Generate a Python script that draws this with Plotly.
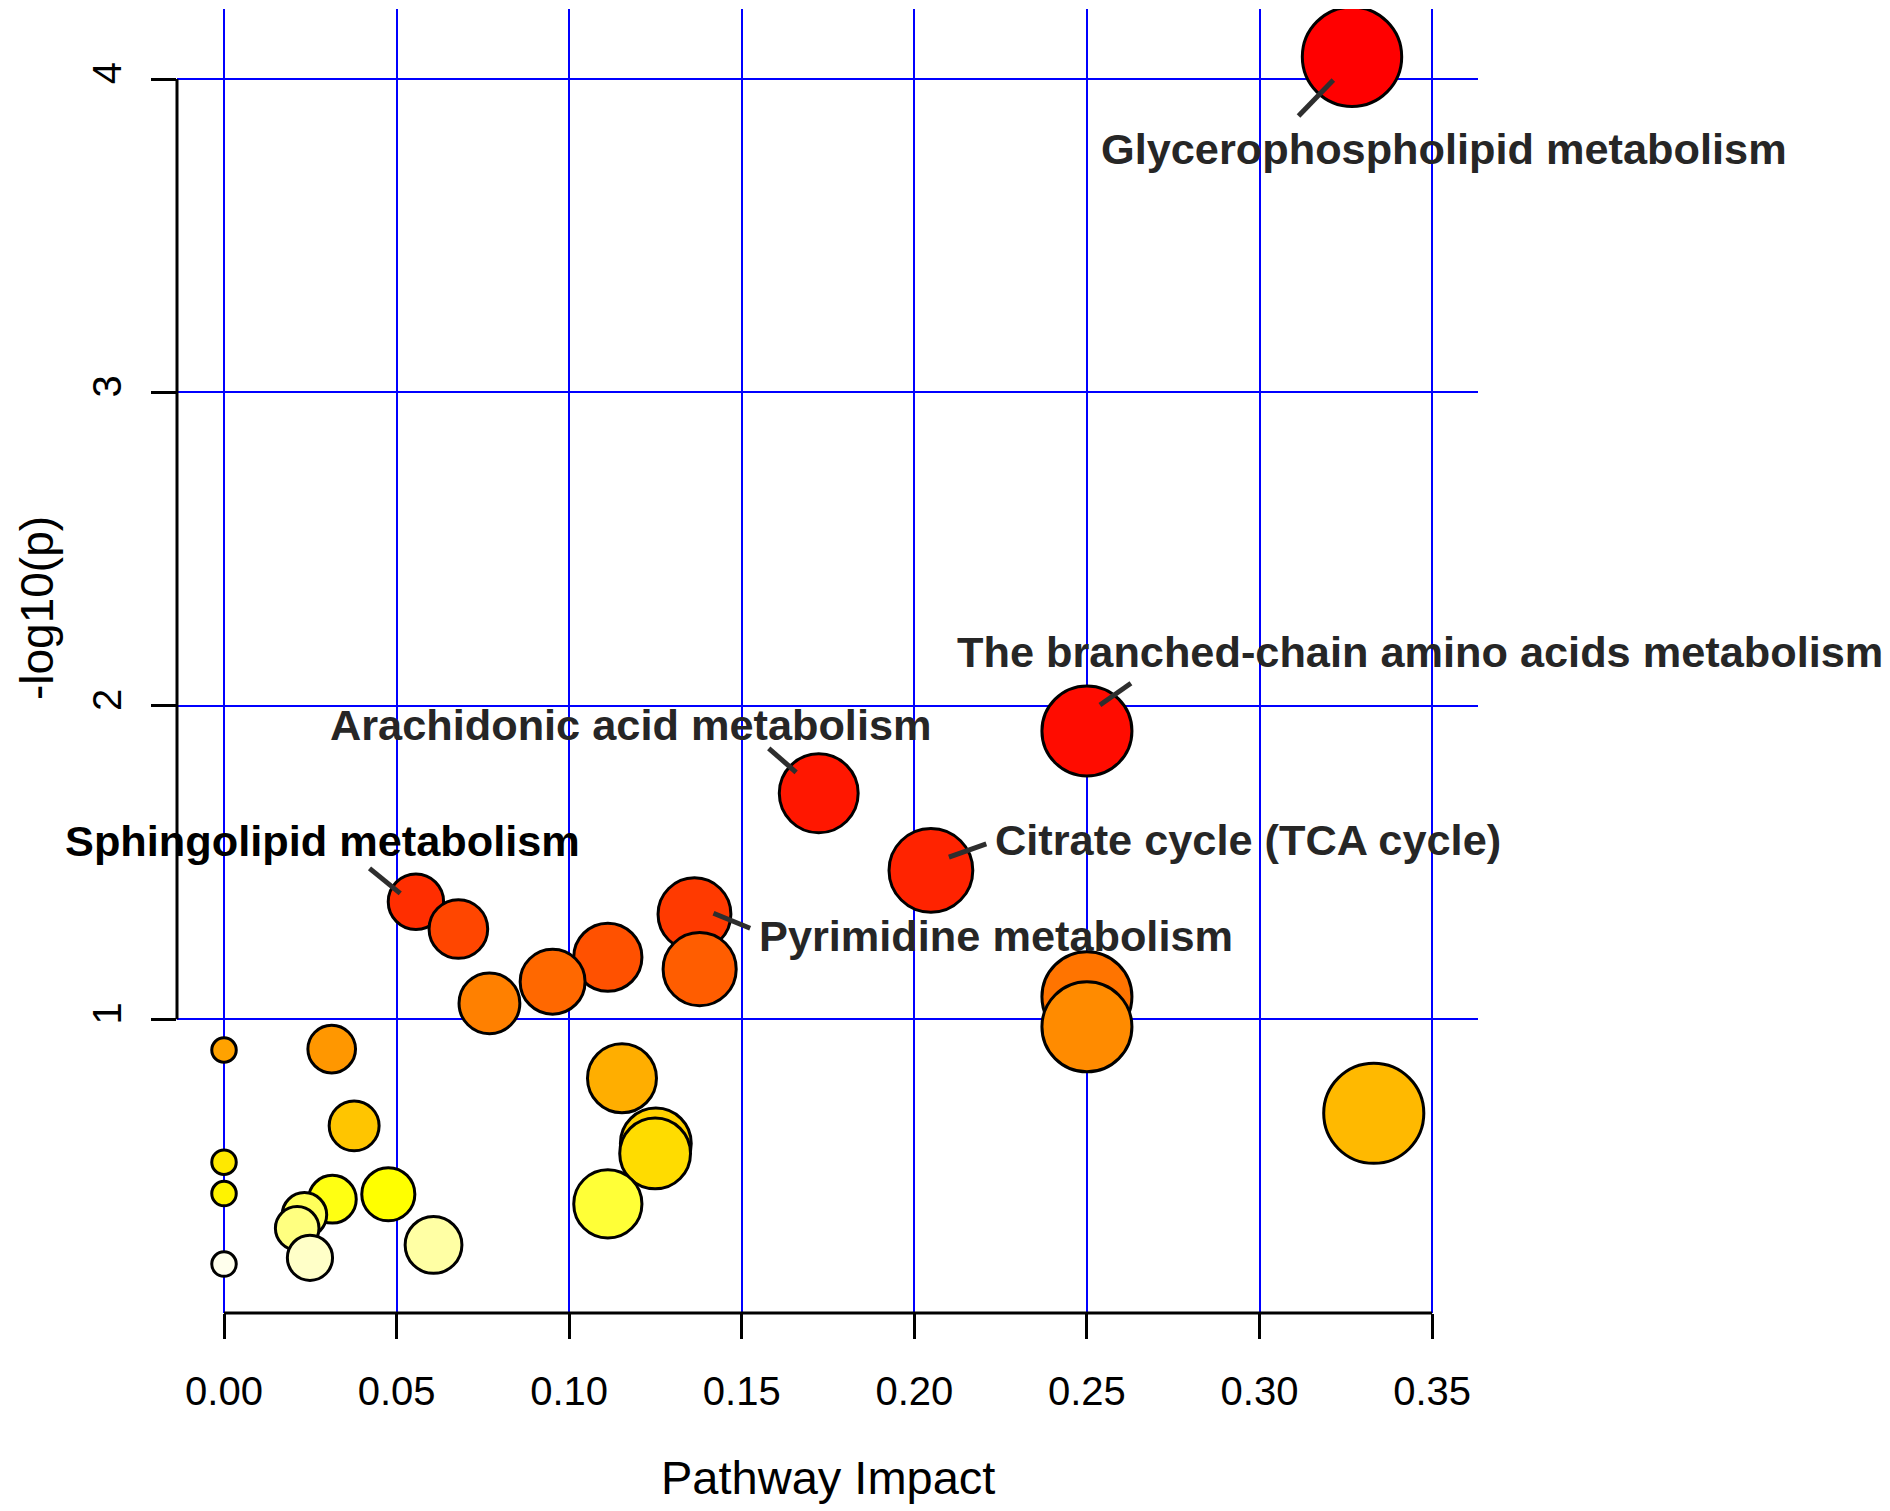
import colorsys
import plotly.graph_objects as go

# ---------------- data ----------------
impact = [0.3268, 0.2500, 0.1723, 0.2048, 0.0556, 0.1363, 0.0679, 0.1112,
          0.1378, 0.0952, 0.2500, 0.0769, 0.2500, 0.0312, 0.0000, 0.1153,
          0.3331, 0.0377, 0.1251, 0.1249, 0.0000, 0.0000, 0.0476, 0.0314,
          0.1112, 0.0233, 0.0212, 0.0607, 0.0249, 0.0000]
neglogp = [4.071, 1.920, 1.721, 1.475, 1.375, 1.335, 1.288, 1.198,
           1.160, 1.120, 1.072, 1.051, 0.976, 0.905, 0.902, 0.812,
           0.700, 0.660, 0.604, 0.572, 0.544, 0.444, 0.442, 0.426,
           0.411, 0.376, 0.333, 0.280, 0.239, 0.219]

label_names = ["Glycerophospholipid metabolism",
               "The branched-chain amino acids metabolism",
               "Arachidonic acid metabolism",
               "Citrate cycle (TCA cycle)",
               "Sphingolipid metabolism",
               "Pyrimidine metabolism"]
label_index = [0, 1, 2, 3, 4, 5]

x_ticks = [0.00, 0.05, 0.10, 0.15, 0.20, 0.25, 0.30, 0.35]
x_tick_text = ["0.00", "0.05", "0.10", "0.15", "0.20", "0.25", "0.30", "0.35"]
y_ticks = [1, 2, 3, 4]
y_tick_text = ["1", "2", "3", "4"]

# ---------------- styling / layout helpers ----------------
# label placement: (left-edge dx, dy up) in px relative to bubble centre
label_offset = [(-253, -92), (-132, 79), (-491, 68), (62, 30), (-353, 61), (63, -22)]
label_color = ["#262626", "#262626", "#262626", "#262626", "#000000", "#262626"]
# leader segments: (x0, y0, x1, y1) px relative to bubble centre (y up)
leader_offset = [(-53.5, -59.3, -18.7, -23.3), (13, 26, 44, 47.7),
                 (-50, 45, -22.6, 21), (18, 13.3, 55.4, 26.5),
                 (-46.4, 33.4, -15.7, 8.4), (19, 1, 55.7, -14)]


def heat_colors(n):
    """R's heat.colors(n)."""
    j = n // 4
    i = n - j
    cols = []
    for k in range(i):
        h = (1 / 6) * k / (i - 1) if i > 1 else 0
        cols.append(colorsys.hsv_to_rgb(h, 1, 1))
    for k in range(j):
        if j > 1:
            s = (1 - 1 / (2 * j)) + k * ((1 / (2 * j)) - (1 - 1 / (2 * j))) / (j - 1)
        else:
            s = 0.5
        cols.append(colorsys.hsv_to_rgb(1 / 6, s, 1))
    return ["rgb(%d,%d,%d)" % (round(r * 255), round(g * 255), round(b * 255)) for r, g, b in cols]


n = len(impact)
order = sorted(range(n), key=lambda k: -neglogp[k])
palette = heat_colors(n)
colors = [None] * n
for rank, k in enumerate(order):
    colors[k] = palette[rank]

line_w = 3
sizes = [24.5 + 131 * (v ** 0.5) for v in impact]

FONT = "Liberation Sans, Arial, Helvetica, sans-serif"

fig = go.Figure()
fig.add_trace(go.Scatter(
    x=[impact[k] for k in order],
    y=[neglogp[k] for k in order],
    mode="markers",
    marker=dict(size=[sizes[k] for k in order],
                color=[colors[k] for k in order],
                line=dict(color="black", width=line_w),
                opacity=1),
    hoverinfo="x+y",
    showlegend=False,
))

annotations = []
shapes = []
for j, k in enumerate(label_index):
    dx, dy = label_offset[j]
    annotations.append(dict(
        x=impact[k], y=neglogp[k], xref="x", yref="y",
        text=label_names[j], showarrow=False,
        xanchor="left", yanchor="middle",
        xshift=dx, yshift=dy,
        font=dict(family=FONT, size=43.3, color=label_color[j], weight=700),
    ))
    x0, y0, x1, y1 = leader_offset[j]
    shapes.append(dict(
        type="line", xref="x", yref="y",
        xsizemode="pixel", ysizemode="pixel",
        xanchor=impact[k], yanchor=neglogp[k],
        x0=x0, y0=y0, x1=x1, y1=y1,
        line=dict(color="#2e2e2e", width=5),
        layer="above",
    ))

# R-style axis lines spanning first..last tick
shapes.append(dict(type="line", xref="x", yref="paper", x0=x_ticks[0], x1=x_ticks[-1],
                   y0=0, y1=0, line=dict(color="black", width=3), layer="above"))
shapes.append(dict(type="line", xref="paper", yref="y", x0=0, x1=0,
                   y0=y_ticks[0], y1=y_ticks[-1], line=dict(color="black", width=3), layer="above"))

# axis titles
annotations.append(dict(x=0.5, y=0, xref="paper", yref="paper", text="Pathway Impact",
                        showarrow=False, xanchor="center", yanchor="middle", yshift=-164,
                        font=dict(family=FONT, size=47, color="black")))
annotations.append(dict(x=0, y=0.5, xref="paper", yref="paper", text="-log10(p)",
                        showarrow=False, xanchor="center", yanchor="middle", xshift=-140,
                        yshift=(1304 / 2) - (608 - 9), textangle=-90,
                        font=dict(family=FONT, size=46, color="black")))

# page body has an 8px margin: shrink figure so the plot area lands where the reference has it
fig.update_layout(
    width=1882, height=1503,
    margin=dict(l=169, r=412, t=1, b=198, pad=0),
    plot_bgcolor="white", paper_bgcolor="white",
    annotations=annotations, shapes=shapes,
    xaxis=dict(range=[-0.01362, 0.3633], tickvals=x_ticks, ticktext=x_tick_text,
               showgrid=True, gridcolor="#0000FF", gridwidth=2, zeroline=False,
               showline=False, ticks="outside", ticklen=25, tickwidth=3, tickcolor="black",
               tickfont=dict(family=FONT, size=40, color="black"), ticklabelstandoff=18),
    yaxis=dict(range=[0.0629, 4.2234], tickvals=y_ticks, ticktext=y_tick_text,
               showgrid=True, gridcolor="#0000FF", gridwidth=2, zeroline=False,
               showline=False, ticks="outside", ticklen=25, tickwidth=3, tickcolor="black",
               tickangle=-90,
               tickfont=dict(family=FONT, size=40, color="black"), ticklabelstandoff=14),
)

fig.write_html("out.html")
